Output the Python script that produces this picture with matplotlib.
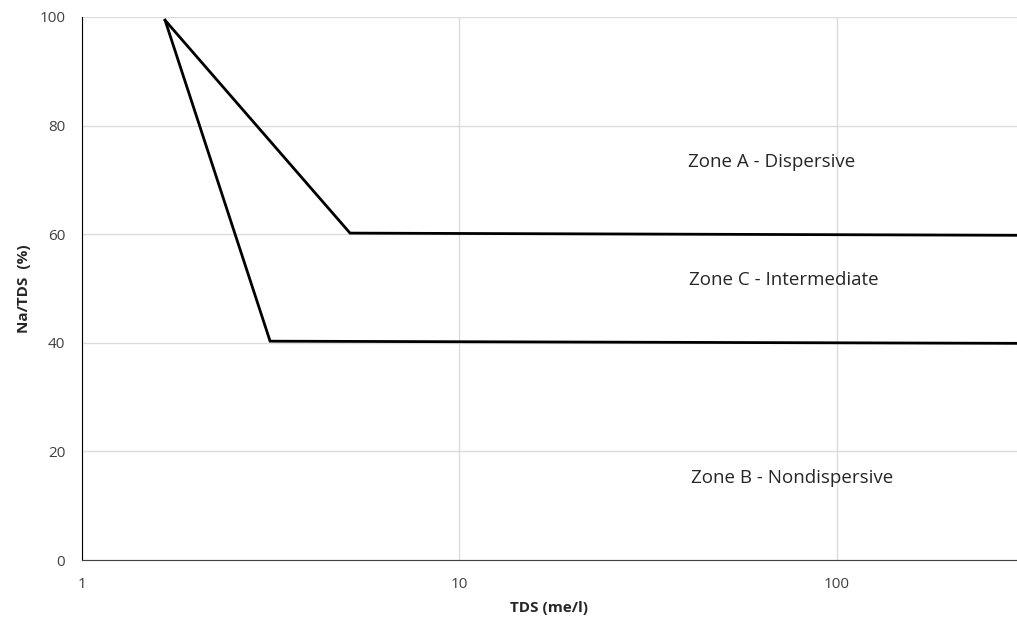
import matplotlib
matplotlib.use("Agg")
import matplotlib.pyplot as plt
from matplotlib.ticker import FixedLocator, FixedFormatter, NullLocator

# Boundary lines (TDS in me/l, Na/TDS in %)
upper_x = [1.66, 5.13, 300]
upper_y = [99.4, 60.2, 59.8]
lower_x = [1.66, 3.15, 300]
lower_y = [99.4, 40.3, 39.9]

zone_labels = ["Zone A - Dispersive", "Zone C - Intermediate", "Zone B - Nondispersive"]
zone_x = [40.3, 40.5, 41.0]
zone_y = [73.3, 51.6, 15.1]

x_ticks = [1, 10, 100]
x_tick_labels = ["1", "10", "100"]
y_ticks = [0, 20, 40, 60, 80, 100]

plt.rcParams['font.family'] = ['Open Sans', 'DejaVu Sans']

fig = plt.figure(figsize=(10.17, 6.23), dpi=100)
ax = fig.add_axes([82/1017, 63/623, (1017-82)/1017, 543/623])

ax.plot(upper_x, upper_y, color='black', lw=2.0, solid_joinstyle='miter')
ax.plot(lower_x, lower_y, color='black', lw=2.0, solid_joinstyle='miter')

ax.set_xscale('log')
ax.set_xlim(1, 300)
ax.set_ylim(0, 100)
ax.xaxis.set_major_locator(FixedLocator(x_ticks))
ax.xaxis.set_major_formatter(FixedFormatter(x_tick_labels))
ax.xaxis.set_minor_locator(NullLocator())
ax.set_yticks(y_ticks)

ax.grid(True, color='#dcdcdc', lw=1.0)
ax.set_axisbelow(True)
for s in ['top', 'right']:
    ax.spines[s].set_visible(False)
ax.spines['left'].set_color('black')
ax.spines['bottom'].set_color('#404040')
ax.tick_params(length=0, labelsize=11, colors='#404040', pad=12)
ax.tick_params(axis='y', pad=12)

for t, x, y in zip(zone_labels, zone_x, zone_y):
    ax.text(x, y, t, ha='left', va='center', fontsize=13.5, color='#262626')

ax.set_xlabel("TDS (me/l)", fontsize=11, fontweight='bold', color='#262626', labelpad=7)
ax.set_ylabel("Na/TDS  (%)", fontsize=11, fontweight='bold', color='#262626', labelpad=6)

fig.savefig("out.png", dpi=100)
